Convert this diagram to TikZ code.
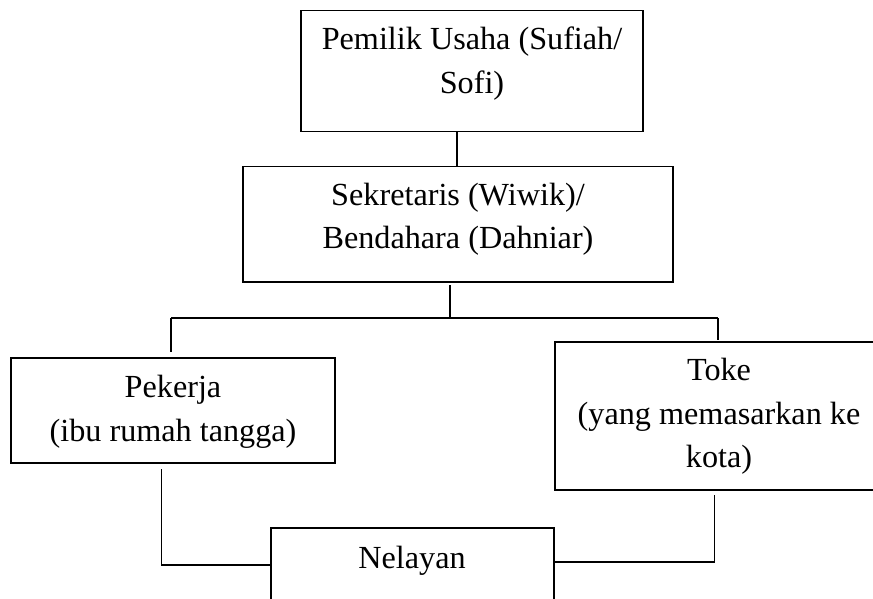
\documentclass[tikz,border=0pt]{standalone}
\usepackage{fontspec}
\setmainfont{Liberation Serif}
\usetikzlibrary{calc}
\begin{document}
\begin{tikzpicture}[x=1pt,y=-1pt,
  box/.style={draw=black,line width=1.6pt,rectangle,inner sep=0pt},
  txt/.style={align=center,inner sep=0pt,font=\fontsize{32.2}{43.5}\selectfont},
  conn/.style={draw=black,line width=1.3pt}]
\useasboundingbox (0,0) rectangle (873,599);
\clip (0,0) rectangle (873,599);
% boxes
\node[box,minimum width=342.3pt,minimum height=121pt] (top) at (471.9,71.2) {};
\node[box,minimum width=430.3pt,minimum height=115pt] (sek) at (457.9,224.2) {};
\node[box,minimum width=324pt,minimum height=105pt] (pek) at (173,410.5) {};
\node[box,minimum width=325pt,minimum height=148pt] (toke) at (717.5,416) {};
\node[box,minimum width=283pt,minimum height=82pt] (nel) at (412.5,569) {};
% texts
\node[txt] (toptext) at (472,63.5) {Pemilik Usaha (Sufiah/\\Sofi)};
\node[txt] (sektext) at (458,219.5) {Sekretaris (Wiwik)/\\Bendahara (Dahniar)};
\node[txt] (pektext) at (173,411.7) {Pekerja\\(ibu rumah tangga)};
\node[txt] (toketext) at (719,416.7) {Toke\\(yang memasarkan ke\\kota)};
\node[txt] (neltext) at (412,560.7) {Nelayan};
% coordinates
\coordinate (a1) at (457,150);
\coordinate (s1) at (450,285);
\coordinate (j) at (450,318);
\coordinate (hl) at (171,318);
\coordinate (hr) at (718,318);
\coordinate (pl) at (171,352);
\coordinate (tr) at (718,340);
\coordinate (p1) at (161.5,469);
\coordinate (t1) at (714.5,495);
% connectors
\draw[conn] (top.south -| a1) -- (sek.north -| a1);
\draw[conn] (s1) -- (j);
\draw[conn] (hl) -- (hr);
\draw[conn] (hl) -- (pl);
\draw[conn] (hr) -- (tr);
\draw[conn] (p1) |- ([yshift=4pt]nel.west);
\draw[conn] (t1) |- ([yshift=7pt]nel.east);
\end{tikzpicture}
\end{document}
